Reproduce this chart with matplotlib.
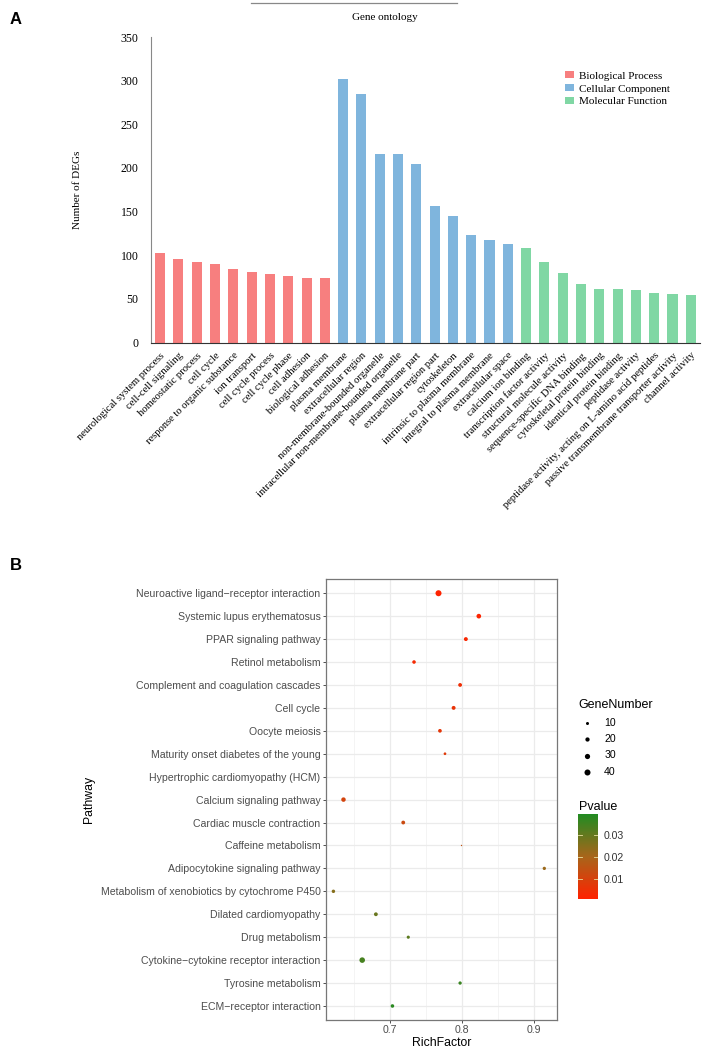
import matplotlib.pyplot as plt
import numpy as np
from matplotlib.colors import LinearSegmentedColormap, Normalize
from matplotlib.patches import Patch
from matplotlib.lines import Line2D

# ---- panel A: GO bar chart ----
bp_terms = ['neurological system process', 'cell-cell signaling', 'homeostatic process', 'cell cycle',
            'response to organic substance', 'ion transport', 'cell cycle process', 'cell cycle phase',
            'cell adhesion', 'biological adhesion']
bp_counts = [103, 96, 92, 90, 84, 81, 79, 76, 74, 74]

cc_terms = ['plasma membrane', 'extracellular region', 'non-membrane-bounded organelle',
            'intracellular non-membrane-bounded organelle', 'plasma membrane part',
            'extracellular region part', 'cytoskeleton', 'intrinsic to plasma membrane',
            'integral to plasma membrane', 'extracellular space']
cc_counts = [302, 285, 216, 216, 205, 156, 145, 123, 118, 113]

mf_terms = ['calcium ion binding', 'transcription factor activity', 'structural molecule activity',
            'sequence-specific DNA binding', 'cytoskeletal protein binding', 'identical protein binding',
            'peptidase activity', 'peptidase activity, acting on L-amino acid peptides',
            'passive transmembrane transporter activity', 'channel activity']
mf_counts = [108, 92, 80, 67, 61, 61, 60, 57, 56, 55]

group_names = ['Biological Process', 'Cellular Component', 'Molecular Function']
group_colors = ['#F77F7F', '#7FB5DD', '#80D7A4']

# ---- panel B: KEGG bubble chart ----
pathways = ['Neuroactive ligand\u2212receptor interaction', 'Systemic lupus erythematosus',
            'PPAR signaling pathway', 'Retinol metabolism', 'Complement and coagulation cascades',
            'Cell cycle', 'Oocyte meiosis', 'Maturity onset diabetes of the young',
            'Hypertrophic cardiomyopathy (HCM)', 'Calcium signaling pathway',
            'Cardiac muscle contraction', 'Caffeine metabolism', 'Adipocytokine signaling pathway',
            'Metabolism of xenobiotics by cytochrome P450', 'Dilated cardiomyopathy',
            'Drug metabolism', 'Cytokine\u2212cytokine receptor interaction', 'Tyrosine metabolism',
            'ECM\u2212receptor interaction']
rich_factor = [0.767, 0.823, 0.805, 0.733, 0.797, 0.788, 0.769, 0.776, np.nan, 0.635,
               0.718, 0.799, 0.914, 0.621, 0.680, 0.725, 0.661, 0.797, 0.703]
gene_number = [40, 24, 17, 14, 16, 17, 15, 8, np.nan, 22, 16, 2, 12, 13, 16, 11, 34, 12, 14]
pvalue = [0.0012, 0.0018, 0.0025, 0.0032, 0.0045, 0.0058, 0.0068, 0.0078, 0.009, 0.0105,
          0.0125, 0.015, 0.022, 0.025, 0.029, 0.031, 0.034, 0.036, 0.038]
size_legend = [10, 20, 30, 40]
p_ticks = [0.01, 0.02, 0.03]


def bubble(n):
    return 0.47 * np.asarray(n, dtype=float)


fig = plt.figure(figsize=(7.09, 10.49), dpi=100)
serif = 'Liberation Serif'
sans = 'Liberation Sans'

# ================= A =================
axA = fig.add_axes([0.213, 0.6734, 0.775, 0.2913])
terms = bp_terms + cc_terms + mf_terms
counts = bp_counts + cc_counts + mf_counts
colors = ([group_colors[0]] * len(bp_terms) + [group_colors[1]] * len(cc_terms)
          + [group_colors[2]] * len(mf_terms))
x = np.arange(len(terms))
axA.bar(x, counts, width=0.55, color=colors)
axA.set_xlim(-0.5, len(terms) - 0.47)
axA.set_ylim(0, 350)
axA.set_yticks(np.arange(0, 351, 50))
axA.set_yticklabels([str(v) for v in range(0, 351, 50)], fontfamily=serif, fontsize=8.5)
axA.set_xticks(x)
axA.set_xticklabels(terms, rotation=45, ha='right', va='top', rotation_mode='anchor',
                    fontfamily=serif, fontsize=7.7)
axA.tick_params(axis='both', length=0, pad=9)
axA.tick_params(axis='x', pad=6)
for side in ['top', 'right']:
    axA.spines[side].set_visible(False)
axA.spines['left'].set_color('#888888')
axA.spines['bottom'].set_color('#333333')
axA.set_ylabel('Number of DEGs', fontfamily=serif, fontsize=8)
axA.yaxis.set_label_coords(-0.125, 0.5)
handles = [Patch(facecolor=c, edgecolor='none') for c in group_colors]
axA.legend(handles, group_names, loc='upper left', bbox_to_anchor=(0.745, 0.902), frameon=False,
           prop={'family': serif, 'size': 8.0}, handlelength=0.8, handleheight=0.6,
           handletextpad=0.45, labelspacing=0.3, borderaxespad=0)

fig.text(385 / 709, 1 - 17 / 1049, 'Gene ontology', ha='center', va='center',
         fontfamily=serif, fontsize=8)
fig.add_artist(Line2D([251 / 709, 457 / 709], [1 - 3 / 1049, 1 - 3 / 1049],
                      color='#888888', lw=0.9))
fig.text(10 / 709, 1 - 20 / 1049, 'A', fontfamily=sans, fontweight='bold', fontsize=12,
         va='center')

# ================= B =================
axB = fig.add_axes([0.4598, 0.0279, 0.3262, 0.4197])
cmap = LinearSegmentedColormap.from_list('pv', ['#FF2200', '#A8651A', '#228B22'])
norm = Normalize(vmin=0.0009, vmax=0.0393)
y = np.arange(len(pathways))
axB.scatter(rich_factor, y, s=bubble(gene_number), c=pvalue, cmap=cmap, norm=norm,
            linewidths=0, zorder=3)
axB.set_ylim(len(pathways) - 0.4, -0.6)
axB.set_xlim(0.6107, 0.932)
axB.set_yticks(y)
axB.set_yticklabels(pathways, fontfamily=sans, fontsize=7.6, color='#4D4D4D')
axB.set_xticks([0.7, 0.8, 0.9])
axB.set_xticklabels(['0.7', '0.8', '0.9'], fontfamily=sans, fontsize=7.6, color='#4D4D4D')
axB.set_xticks([0.65, 0.75, 0.85], minor=True)
axB.tick_params(axis='both', which='major', length=2.5, width=0.6, color='#333333', pad=1.5)
axB.tick_params(axis='x', which='minor', length=0)
axB.grid(True, which='major', color='#EBEBEB', lw=0.9, zorder=0)
axB.grid(True, which='minor', axis='x', color='#F2F2F2', lw=0.6, zorder=0)
axB.set_axisbelow(True)
for sp in axB.spines.values():
    sp.set_color('#777777')
    sp.set_linewidth(0.9)
axB.set_xlabel('RichFactor', fontfamily=sans, fontsize=8.8, labelpad=1)
axB.set_ylabel('Pathway', fontfamily=sans, fontsize=8.8)
axB.yaxis.set_label_coords(-1.0, 0.5)

# size legend
size_handles = [axB.scatter([], [], s=bubble(v), color='black', linewidths=0) for v in size_legend]
leg = axB.legend(size_handles, [str(v) for v in size_legend], title='GeneNumber',
                 loc='upper left', bbox_to_anchor=(1.075, 0.737), frameon=False,
                 prop={'family': sans, 'size': 7.6}, handletextpad=0.76, labelspacing=0.6,
                 borderaxespad=0, handlelength=1.64, alignment='left')
leg.get_title().set_fontfamily(sans)
leg.get_title().set_fontsize(9)

# colorbar
cax = fig.add_axes([577.7 / 709, 1 - 899 / 1049, 20 / 709, 84.7 / 1049])
sm = plt.cm.ScalarMappable(norm=norm, cmap=cmap)
cb = fig.colorbar(sm, cax=cax)
cb.outline.set_visible(False)
cb.set_ticks(p_ticks)
cb.set_ticklabels([f'{t:.2f}' for t in p_ticks])
cax.tick_params(length=0, labelsize=7.6, pad=4)
for lab in cax.get_yticklabels():
    lab.set_fontfamily(sans)
    lab.set_color('#333333')
for t in p_ticks:
    cax.axhline(t, xmin=0, xmax=0.2, color='#E8E0A0', lw=0.6)
    cax.axhline(t, xmin=0.8, xmax=1, color='#E8E0A0', lw=0.6)
fig.text(579 / 709, 1 - 806.7 / 1049, 'Pvalue', fontfamily=sans, fontsize=9, va='center')

fig.text(10 / 709, 1 - 565 / 1049, 'B', fontfamily=sans, fontweight='bold', fontsize=12,
         va='center')

fig.savefig('out.png', dpi=100)
